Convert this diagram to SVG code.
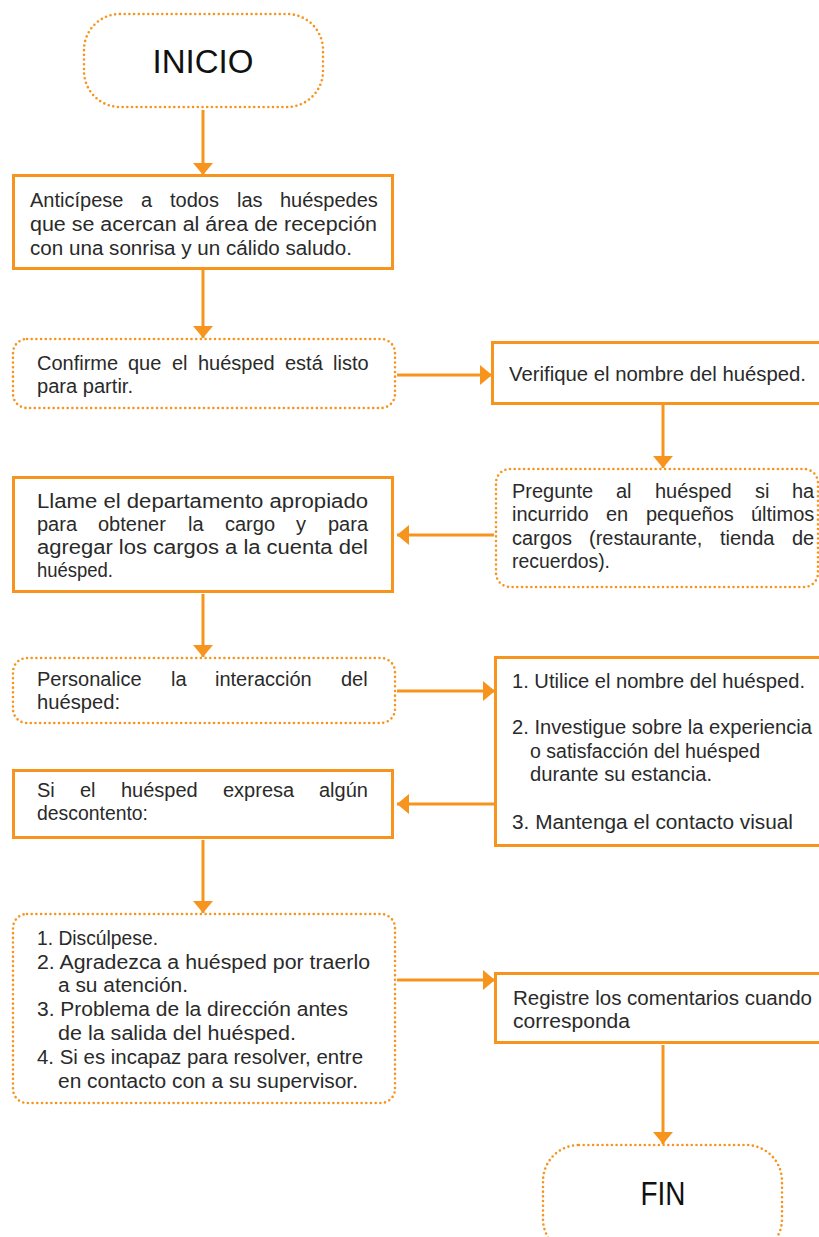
<svg xmlns="http://www.w3.org/2000/svg" width="819" height="1237" viewBox="0 0 819 1237">
  <style>
    .solid { fill: #ffffff; stroke: #F7941D; stroke-width: 3; }
    .dotted { fill: #ffffff; stroke: #F7941D; stroke-width: 2.6; stroke-dasharray: 0 4.7; stroke-linecap: round; }
    .t { font-family: "Liberation Sans", Arial, sans-serif; font-size: 20px; fill: #2a2a2a; }
    .big { font-family: "Liberation Sans", Arial, sans-serif; font-size: 34px; fill: #111111; text-anchor: middle; }
    .conn line { stroke: #F7941D; stroke-width: 3; marker-end: url(#arrow); }
  </style>
  <defs>
    <marker id="arrow" markerUnits="userSpaceOnUse" viewBox="0 0 12 20" markerWidth="12" markerHeight="20" refX="12" refY="10" orient="auto">
      <path d="M0,0 L12,10 L0,20 z" fill="#F7941D"/>
    </marker>
  </defs>
  <rect width="819" height="1237" fill="#ffffff"/>

  <!-- connectors -->
  <g id="connectors" class="conn">
    <line x1="203" y1="110" x2="203" y2="175"/>
    <line x1="203" y1="270" x2="203" y2="338"/>
    <line x1="397" y1="375" x2="492" y2="375"/>
    <line x1="663" y1="404" x2="663" y2="468"/>
    <line x1="494" y1="535" x2="397" y2="535"/>
    <line x1="203" y1="594" x2="203" y2="657"/>
    <line x1="397" y1="691" x2="495" y2="691"/>
    <line x1="494" y1="804" x2="397" y2="804"/>
    <line x1="203" y1="840" x2="203" y2="913"/>
    <line x1="397" y1="980" x2="495" y2="980"/>
    <line x1="663" y1="1045" x2="663" y2="1144"/>
  </g>

  <!-- start terminal -->
  <g id="inicio">
    <rect class="dotted" x="84" y="14" width="239" height="93" rx="36"/>
    <text class="big" x="203" y="73" textLength="101" lengthAdjust="spacingAndGlyphs">INICIO</text>
  </g>

  <!-- justified lines: each word placed at its own x -->
  <g id="anticipese">
    <rect class="solid" x="13.5" y="175.5" width="379" height="93"/>
    <text class="t" y="207"><tspan x="30">Anticípese</tspan> <tspan x="141">a</tspan> <tspan x="170">todos</tspan> <tspan x="237">las</tspan> <tspan x="280">huéspedes</tspan></text>
    <text class="t" x="30" y="231" textLength="347" lengthAdjust="spacingAndGlyphs">que se acercan al área de recepción</text>
    <text class="t" x="30" y="255" textLength="322" lengthAdjust="spacingAndGlyphs">con una sonrisa y un cálido saludo.</text>
  </g>

  <g id="confirme">
    <rect class="dotted" x="13" y="339" width="382" height="69" rx="14"/>
    <text class="t" y="370"><tspan x="37">Confirme</tspan> <tspan x="128">que</tspan> <tspan x="172">el</tspan> <tspan x="198">huésped</tspan> <tspan x="285">está</tspan> <tspan x="333">listo</tspan></text>
    <text class="t" x="37" y="393" textLength="96" lengthAdjust="spacingAndGlyphs">para partir.</text>
  </g>

  <g id="verifique">
    <rect class="solid" x="492.5" y="342.5" width="340" height="61"/>
    <text class="t" x="509" y="381" textLength="297" lengthAdjust="spacingAndGlyphs">Verifique el nombre del huésped.</text>
  </g>

  <g id="pregunte">
    <rect class="dotted" x="496" y="469" width="322" height="118" rx="14"/>
    <text class="t" y="498"><tspan x="512">Pregunte</tspan> <tspan x="616">al</tspan> <tspan x="655">huésped</tspan> <tspan x="755">si</tspan> <tspan x="792">ha</tspan></text>
    <text class="t" y="521"><tspan x="512">incurrido</tspan> <tspan x="606">en</tspan> <tspan x="646">pequeños</tspan> <tspan x="751">últimos</tspan></text>
    <text class="t" y="545"><tspan x="512">cargos</tspan> <tspan x="589">(restaurante,</tspan> <tspan x="720">tienda</tspan> <tspan x="792">de</tspan></text>
    <text class="t" x="512" y="568" textLength="98" lengthAdjust="spacingAndGlyphs">recuerdos).</text>
  </g>

  <g id="llame">
    <rect class="solid" x="13.5" y="477.5" width="379" height="114"/>
    <text class="t" x="37" y="508" textLength="331" lengthAdjust="spacingAndGlyphs">Llame el departamento apropiado</text>
    <text class="t" y="531"><tspan x="37">para</tspan> <tspan x="98">obtener</tspan> <tspan x="188">la</tspan> <tspan x="225">cargo</tspan> <tspan x="296">y</tspan> <tspan x="328">para</tspan></text>
    <text class="t" x="37" y="554" textLength="331" lengthAdjust="spacingAndGlyphs">agregar los cargos a la cuenta del</text>
    <text class="t" x="37" y="577" textLength="76" lengthAdjust="spacingAndGlyphs">huésped.</text>
  </g>

  <g id="personalice">
    <rect class="dotted" x="13" y="658" width="382" height="65" rx="14"/>
    <text class="t" y="686"><tspan x="37">Personalice</tspan> <tspan x="171">la</tspan> <tspan x="215">interacción</tspan> <tspan x="341">del</tspan></text>
    <text class="t" x="37" y="709" textLength="83" lengthAdjust="spacingAndGlyphs">huésped:</text>
  </g>

  <g id="acciones">
    <rect class="solid" x="495.5" y="657.5" width="340" height="188"/>
    <text class="t" x="512" y="688" textLength="293" lengthAdjust="spacingAndGlyphs">1. Utilice el nombre del huésped.</text>
    <text class="t" x="512" y="734" textLength="300" lengthAdjust="spacingAndGlyphs">2. Investigue sobre la experiencia</text>
    <text class="t" x="530" y="758" textLength="230" lengthAdjust="spacingAndGlyphs">o satisfacción del huésped</text>
    <text class="t" x="530" y="781" textLength="182" lengthAdjust="spacingAndGlyphs">durante su estancia.</text>
    <text class="t" x="512" y="829" textLength="281" lengthAdjust="spacingAndGlyphs">3. Mantenga el contacto visual</text>
  </g>

  <g id="descontento">
    <rect class="solid" x="13.5" y="770.5" width="379" height="67"/>
    <text class="t" y="797"><tspan x="37">Si</tspan> <tspan x="80">el</tspan> <tspan x="121">huésped</tspan> <tspan x="223">expresa</tspan> <tspan x="319">algún</tspan></text>
    <text class="t" x="37" y="820" textLength="111" lengthAdjust="spacingAndGlyphs">descontento:</text>
  </g>

  <g id="pasos">
    <rect class="dotted" x="13" y="914" width="382" height="189" rx="14"/>
    <text class="t" x="37" y="945" textLength="121" lengthAdjust="spacingAndGlyphs">1. Discúlpese.</text>
    <text class="t" x="37" y="969" textLength="333" lengthAdjust="spacingAndGlyphs">2. Agradezca a huésped por traerlo</text>
    <text class="t" x="58" y="992" textLength="130" lengthAdjust="spacingAndGlyphs">a su atención.</text>
    <text class="t" x="37" y="1016" textLength="311" lengthAdjust="spacingAndGlyphs">3. Problema de la dirección antes</text>
    <text class="t" x="58" y="1040" textLength="238" lengthAdjust="spacingAndGlyphs">de la salida del huésped.</text>
    <text class="t" x="37" y="1064" textLength="326" lengthAdjust="spacingAndGlyphs">4. Si es incapaz para resolver, entre</text>
    <text class="t" x="58" y="1088" textLength="300" lengthAdjust="spacingAndGlyphs">en contacto con a su supervisor.</text>
  </g>

  <g id="registre">
    <rect class="solid" x="495.5" y="973.5" width="340" height="69"/>
    <text class="t" x="513" y="1005" textLength="299" lengthAdjust="spacingAndGlyphs">Registre los comentarios cuando</text>
    <text class="t" x="513" y="1028" textLength="117" lengthAdjust="spacingAndGlyphs">corresponda</text>
  </g>

  <!-- end terminal -->
  <g id="fin">
    <rect class="dotted" x="543" y="1145" width="239" height="110" rx="36"/>
    <text class="big" x="663" y="1205" textLength="45" lengthAdjust="spacingAndGlyphs">FIN</text>
  </g>
</svg>
